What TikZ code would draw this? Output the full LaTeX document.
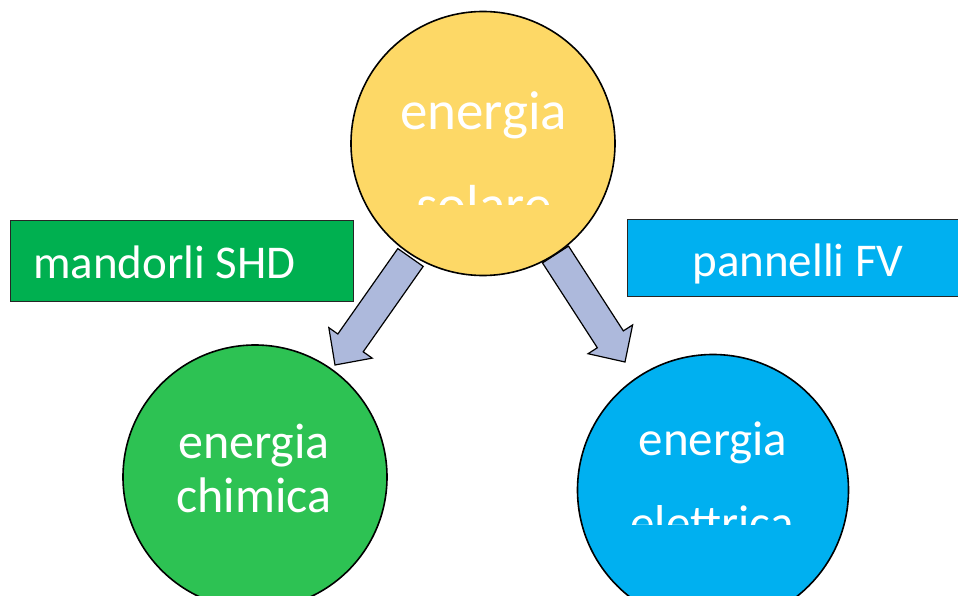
\documentclass[tikz,border=0pt]{standalone}
\usepackage{fontspec}
\setmainfont{Carlito}
\usetikzlibrary{calc}
\definecolor{sunyellow}{HTML}{FDD866}
\definecolor{chemgreen}{HTML}{2DC253}
\definecolor{rectgreen}{HTML}{00B050}
\definecolor{skyblue}{HTML}{00B0F0}
\definecolor{arrowfill}{HTML}{ADB9DC}
\tikzset{
  bubble/.style={circle, draw=black, line width=1.6pt, inner sep=0pt},
  labelbox/.style={draw=black!85, line width=0.9pt, anchor=north west, inner sep=0pt},
  bigtxt/.style={text=white, anchor=base, inner sep=0pt, font=\fontsize{#1}{#1}\selectfont},
  blockarrow/.style={fill=arrowfill, draw=black, line width=1.2pt, line join=miter},
}
\newcommand\blockarr[2]{%
  \coordinate (tmpb) at ($(#2)!27pt!(#1)$);
  \draw[blockarrow] ($(#1)!15.5pt!90:(#2)$) -- ($(tmpb)!15.5pt!-90:(#1)$)
    -- ($(tmpb)!26.5pt!-90:(#1)$) -- (#2) -- ($(tmpb)!26.5pt!90:(#1)$)
    -- ($(tmpb)!15.5pt!90:(#1)$) -- ($(#1)!15.5pt!-90:(#2)$) -- cycle;}
\begin{document}
\begin{tikzpicture}[x=1pt,y=-1pt]
\useasboundingbox (0,0) rectangle (958,596);
\clip (0,0) rectangle (958,596);
% label boxes
\node[labelbox, fill=rectgreen, minimum width=343pt, minimum height=81pt] (shd) at (10,220) {};
\node[bigtxt=47, anchor=base west] (shdtxt) at (33,278) {mandorli SHD};
\node[labelbox, fill=skyblue, minimum width=340pt, minimum height=77pt] (fv) at (627,219) {};
\node[bigtxt=47] (fvtxt) at (798,276) {pannelli FV};
% arrows
\coordinate (ls) at (410.5,257.5);
\coordinate (lt) at (335,365);
\coordinate (rs) at (555.5,254.5);
\coordinate (rt) at (625,362);
\blockarr{ls}{lt}
\blockarr{rs}{rt}
% circles
\node[bubble, fill=sunyellow, minimum size=264pt] (sol) at (483,143.5) {};
\node[bigtxt=55] (soltxt1) at (483.5,130) {energia};
\begin{scope}
\clip (340,0) rectangle (630,205);
\node[bigtxt=55] (soltxt2) at (484,223) {solare};
\end{scope}
\node[bubble, fill=chemgreen, minimum size=264pt] (chem) at (255,477) {};
\node[bigtxt=50] (chemtxt1) at (254,458) {energia};
\node[bigtxt=50] (chemtxt2) at (254,512) {chimica};
\node[bubble, fill=skyblue, minimum size=271pt] (elet) at (713,490) {};
\node[bigtxt=49] (elettxt1) at (713,455) {energia};
\begin{scope}
\clip (570,300) rectangle (860,524);
\node[bigtxt=49] (elettxt2) at (712,539) {elettrica};
\end{scope}
\end{tikzpicture}
\end{document}
